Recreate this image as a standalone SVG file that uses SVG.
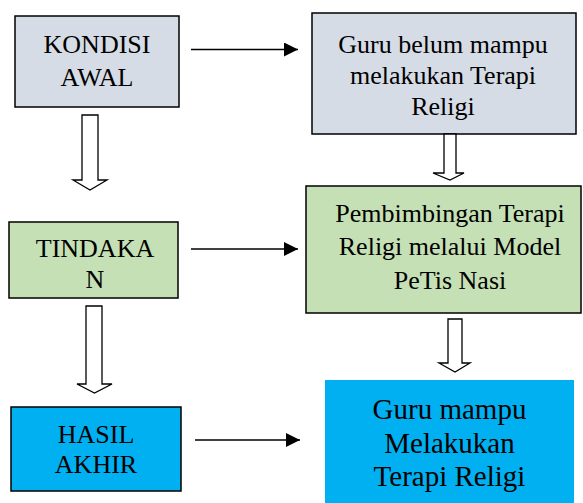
<svg xmlns="http://www.w3.org/2000/svg" width="583" height="503" viewBox="0 0 583 503" font-family="Liberation Serif, Times New Roman, DejaVu Serif, serif">
<defs>
<style>
.box{stroke:#000;stroke-width:1.5}
.grey{fill:#D6DCE5}
.green{fill:#C5E0B4}
.blue{fill:#00B0F0}
text{font-family:'Liberation Serif','Times New Roman','DejaVu Serif',serif;fill:#000;text-anchor:middle}
.t26{font-size:26px}
.t29{font-size:29px}
.line{stroke:#000;stroke-width:1.5;fill:none}
.block{fill:#fff;stroke:#000;stroke-width:1.3}
</style>
<marker id="ah" viewBox="0 0 14 14" refX="14" refY="7" markerWidth="14" markerHeight="14" markerUnits="userSpaceOnUse" orient="auto">
<path d="M0,0 L14,7 L0,14 Z" fill="#000"/>
</marker>
</defs>
<rect width="583" height="503" fill="#fff"/>
<g id="kondisi-awal">
<rect class="box grey" x="15" y="16" width="164" height="91"/>
<text class="t26" x="97" y="53">KONDISI</text>
<text class="t26" x="97" y="86">AWAL</text>
</g>
<g id="guru-belum">
<rect class="box grey" x="312" y="13" width="264" height="121"/>
<text class="t26" x="443" y="53">Guru belum mampu</text>
<text class="t26" x="443" y="84">melakukan Terapi</text>
<text class="t26" x="443" y="115">Religi</text>
</g>
<g id="tindakan">
<rect class="box green" x="9" y="222" width="169" height="76"/>
<text class="t26" x="95" y="257">TINDAKA</text>
<text class="t26" x="95" y="288">N</text>
</g>
<g id="pembimbingan">
<rect class="box green" x="306" y="186" width="275" height="127"/>
<text class="t26" x="450" y="222">Pembimbingan Terapi</text>
<text class="t26" x="450" y="255">Religi melalui Model</text>
<text class="t26" x="450" y="289">PeTis Nasi</text>
</g>
<g id="hasil-akhir">
<rect class="box blue" x="11" y="407" width="170" height="84"/>
<text class="t26" x="96" y="443">HASIL</text>
<text class="t26" x="96" y="473">AKHIR</text>
</g>
<g id="guru-mampu">
<rect class="blue" x="325" y="380" width="249" height="123"/>
<text class="t29" x="449.5" y="419">Guru mampu</text>
<text class="t29" x="449.5" y="453">Melakukan</text>
<text class="t29" x="449.5" y="486">Terapi Religi</text>
</g>
<g id="connectors">
<line class="line" x1="191" y1="49.5" x2="298" y2="49.5" marker-end="url(#ah)"/>
<line class="line" x1="191" y1="249" x2="298" y2="249" marker-end="url(#ah)"/>
<line class="line" x1="195" y1="440" x2="300" y2="440" marker-end="url(#ah)"/>
<path class="block" d="M82,115 H98 V180 H107 L90,190 L73,180 H82 Z"/>
<path class="block" d="M86,306 H102 V384 H112 L94.5,393 L77,384 H86 Z"/>
<path class="block" d="M444,134 H456 V173 H464 L450,180 L433,173 H444 Z"/>
<path class="block" d="M448,319 H462 V363 H470 L455,372 L439,363 H448 Z"/>
</g>
</svg>
